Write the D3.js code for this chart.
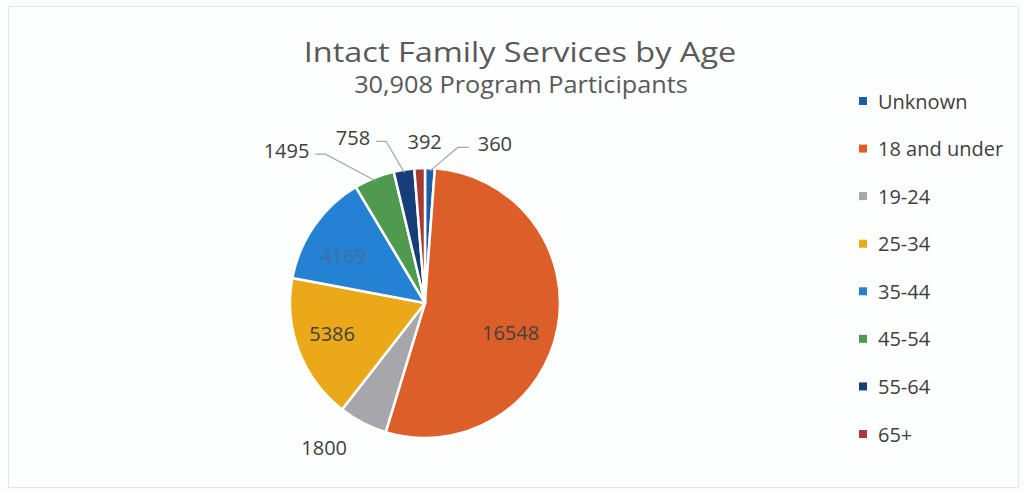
<!DOCTYPE html>
<html>
<head>
<meta charset="utf-8">
<script src="https://cdn.jsdelivr.net/npm/d3@7"></script>
<style>
  body { margin: 0; background: #fcfdfd; }
  svg { display: block; font-family: "Open Sans", "Noto Sans", sans-serif; }
</style>
</head>
<body>
<script>
'use strict';

const categories = ["Unknown", "18 and under", "19-24", "25-34", "35-44", "45-54", "55-64", "65+"];
const values = [360, 16548, 1800, 5386, 4169, 1495, 758, 392];
const colors = ["#1f5ca8", "#dc5f2a", "#a6a6ab", "#eba91a", "#2581d4", "#4f9a4e", "#163e78", "#a73a31"];
const title = "Intact Family Services by Age";
const subtitle = "30,908 Program Participants";

// label placement: radius factor plus small nudge
const labelStyle = [
  { k: 1.19, dx: 64, dy: 1, leader: true },
  { k: 0.66, dx: -2, dy: 13, leader: false },
  { k: 1.30, dx: -20, dy: -11, leader: false },
  { k: 0.72, dx: -2, dy: -4, leader: false },
  { k: 0.72, dx: -2, dy: 8, leader: false },
  { k: 1.19, dx: -78, dy: -4, leader: true },
  { k: 1.19, dx: -47, dy: -7, leader: true },
  { k: 1.19, dx: 6, dy: -1, leader: false }
];

const width = 1025, height = 492;
const cx = 425, cy = 303, r = 135;

const svg = d3.select('body').append('svg')
  .attr('width', width)
  .attr('height', height);

svg.append('rect')
  .attr('x', 8.5).attr('y', 6.5)
  .attr('width', 1010).attr('height', 481)
  .attr('fill', '#fdfefe')
  .attr('stroke', '#e4e6e6');

svg.append('text')
  .attr('transform', 'translate(520,62) scale(1.16,1)')
  .attr('text-anchor', 'middle')
  .style('font-size', '28px')
  .attr('fill', '#595959')
  .text(title);

svg.append('text')
  .attr('transform', 'translate(521,93) scale(1.1,1)')
  .attr('text-anchor', 'middle')
  .style('font-size', '23px')
  .attr('fill', '#595959')
  .text(subtitle);

const data = categories.map((c, i) => ({ name: c, value: values[i], color: colors[i], style: labelStyle[i] }));

const pie = d3.pie().sort(null).value(d => d.value);
const arcs = pie(data);
const arc = d3.arc().innerRadius(0).outerRadius(r);

const g = svg.append('g').attr('transform', `translate(${cx},${cy})`);

g.selectAll('path.slice')
  .data(arcs)
  .enter()
  .append('path')
    .attr('class', 'slice')
    .attr('d', arc)
    .attr('fill', d => d.data.color)
    .attr('stroke', '#ffffff')
    .attr('stroke-width', 2.5)
    .attr('stroke-linejoin', 'round');

function polar(angle, rad) {
  return [Math.sin(angle) * rad, -Math.cos(angle) * rad];
}

const labels = g.selectAll('text.lbl')
  .data(arcs)
  .enter()
  .append('text')
    .attr('class', 'lbl')
    .attr('text-anchor', 'middle')
    .attr('dominant-baseline', 'central')
    .style('font-size', '20px')
    .attr('fill', d => d.index === 4 ? '#3f6f9c' : '#404040')
    .attr('x', d => polar((d.startAngle + d.endAngle) / 2, r * d.data.style.k)[0] + d.data.style.dx)
    .attr('y', d => polar((d.startAngle + d.endAngle) / 2, r * d.data.style.k)[1] + d.data.style.dy)
    .text(d => d.data.value);

// leader lines
labels.each(function(d) {
  if (!d.data.style.leader) return;
  const box = this.getBBox();
  const mid = (d.startAngle + d.endAngle) / 2;
  const a = polar(mid, r - 3);
  const ly = box.y + box.height / 2 + 4;
  let c, b;
  if (box.x + box.width < a[0]) {
    c = [box.x + box.width + 6, ly];
    b = [c[0] + 10, ly];
  } else {
    c = [box.x - 9, ly];
    b = [c[0] - 11, ly];
  }
  g.insert('polyline', 'text.lbl')
    .attr('points', [a, b, c].map(p => p.join(',')).join(' '))
    .attr('fill', 'none')
    .attr('stroke', '#a6a6a6')
    .attr('stroke-width', 1.2);
});

// legend
const legendY = d3.scalePoint()
  .domain(categories)
  .range([101, 434]);

const legend = svg.append('g')
  .selectAll('g')
  .data(data)
  .enter()
  .append('g')
    .attr('transform', d => `translate(859,${legendY(d.name)})`);

legend.append('rect')
  .attr('x', 0).attr('y', -4)
  .attr('width', 8).attr('height', 8)
  .attr('fill', d => d.color);

legend.append('text')
  .attr('x', 19)
  .attr('y', 0)
  .attr('dominant-baseline', 'central')
  .style('font-size', '20px')
  .attr('fill', '#404040')
  .text(d => d.name);
</script>
</body>
</html>
